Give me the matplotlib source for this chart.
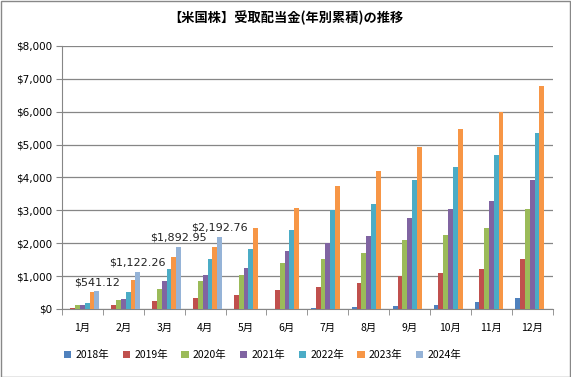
import numpy as np
import matplotlib
matplotlib.use("Agg")
import matplotlib.pyplot as plt
from matplotlib.patches import Rectangle
from matplotlib.ticker import FuncFormatter, MultipleLocator

plt.rcParams['font.family'] = ['Noto Sans CJK JP', 'DejaVu Sans']

months = ['1月', '2月', '3月', '4月', '5月', '6月', '7月', '8月', '9月', '10月', '11月', '12月']
years = ['2018年', '2019年', '2020年', '2021年', '2022年', '2023年', '2024年']

y2018 = [0, 0, 0, 0, 0, 0, 20, 60, 90, 120, 222, 335]
y2019 = [30, 120, 240, 345, 425, 577, 680, 800, 1000, 1105, 1215, 1520]
y2020 = [120, 270, 610, 850, 1030, 1410, 1520, 1710, 2100, 2260, 2470, 3040]
y2021 = [120, 300, 850, 1030, 1250, 1775, 2005, 2230, 2775, 3040, 3290, 3920]
y2022 = [190, 515, 1215, 1520, 1820, 2400, 3010, 3190, 3920, 4315, 4680, 5360]
y2023 = [515, 880, 1590, 1885, 2470, 3070, 3740, 4205, 4935, 5480, 5997, 6780]
y2024 = [541.12, 1122.26, 1892.95, 2192.76]

series = [y2018, y2019, y2020, y2021, y2022, y2023, y2024]
colors = ['#4F81BD', '#C0504D', '#9BBB59', '#8064A2', '#4BACC6', '#F79646', '#95B3D7']

fig = plt.figure(figsize=(5.71, 3.77), dpi=100)
ax = fig.add_axes([0.1086, 0.1804, 0.8594, 0.6976])

x = np.arange(len(months))
w = 1.0 / 8.5
for i, (vals, c, lab) in enumerate(zip(series, colors, years)):
    pos = x[:len(vals)] + (i - 3) * w
    bars = ax.bar(pos, vals, width=w, color=c, label=lab, zorder=3)
    if lab == '2024年':
        # 2024年だけ値ラベル
        for b, v in zip(bars, vals):
            ax.annotate('${:,.2f}'.format(v), (b.get_x() + b.get_width() / 2, v),
                        xytext=(0, 3), textcoords='offset points',
                        ha='center', va='bottom', fontsize=8, color='#222222',
                        family=['DejaVu Sans'])

ax.set_xlim(-0.5, 11.5)
ax.set_ylim(0, 8000)
ax.yaxis.set_major_locator(MultipleLocator(1000))
ax.yaxis.set_major_formatter(FuncFormatter(lambda v, p: '${:,.0f}'.format(v)))
ax.grid(axis='y', color='#868686', linewidth=0.9, zorder=0)

ax.set_xticks(x)
ax.set_xticklabels(months, fontsize=7.5)
ax.set_xticks(np.arange(-0.5, 12, 1), minor=True)
ax.tick_params(axis='x', which='major', length=0, pad=10)
ax.tick_params(axis='x', which='minor', length=4, color='#868686')
ax.tick_params(axis='y', length=4, color='#868686', labelsize=7.5, pad=3)
for lbl in ax.get_yticklabels():
    lbl.set_family(['DejaVu Sans'])

for s in ['top', 'right']:
    ax.spines[s].set_visible(False)
for s in ['left', 'bottom']:
    ax.spines[s].set_color('#868686')

fig.text(0.5, 0.952, '【米国株】受取配当金(年別累積)の推移', ha='center', va='center',
         fontsize=9.5, fontweight='bold')

ax.legend(loc='center', bbox_to_anchor=(0.46, 0.058), bbox_transform=fig.transFigure,
          ncol=7, frameon=False, fontsize=7.5, handlelength=0.7, handleheight=0.7,
          handletextpad=0.4, columnspacing=1.3)

fig.patches.append(Rectangle((0.001, 0.001), 0.997, 0.997, transform=fig.transFigure,
                             fill=False, edgecolor='#888888', linewidth=1))

fig.savefig('out.png', dpi=100)
